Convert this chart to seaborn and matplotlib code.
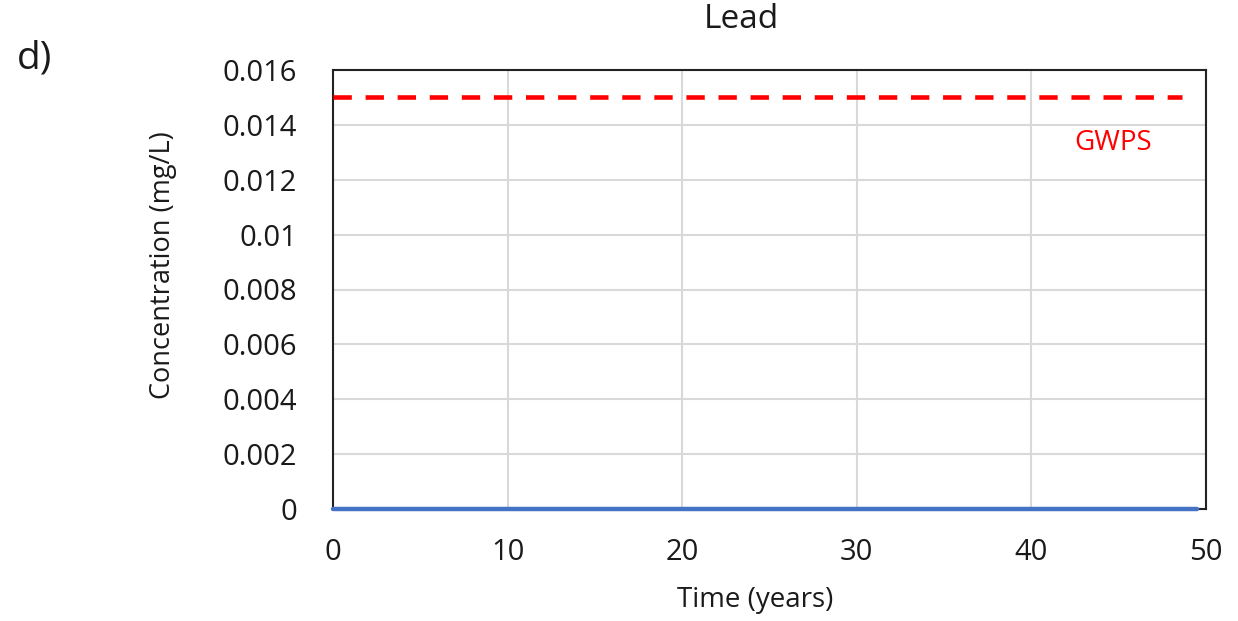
import matplotlib
matplotlib.use("Agg")
import matplotlib.pyplot as plt
import seaborn as sns
import pandas as pd

time_years = [0, 10, 20, 30, 40, 49.5]
lead_conc = [0, 0, 0, 0, 0, 0]
gwps_time = [0, 48.6]
gwps_value = [0.015, 0.015]
x_ticks = [0, 10, 20, 30, 40, 50]
y_ticks = [0, 0.002, 0.004, 0.006, 0.008, 0.01, 0.012, 0.014, 0.016]
y_tick_labels = ["0", "0.002", "0.004", "0.006", "0.008", "0.01", "0.012", "0.014", "0.016"]

sns.set_theme(style="white")
plt.rcParams['font.family'] = ['Open Sans', 'DejaVu Sans']

W, H = 1238, 621
fig = plt.figure(figsize=(W / 100, H / 100), dpi=100)
ax = fig.add_axes([333 / W, 1 - 509 / H, (1206 - 333) / W, (509 - 70) / H])

df = pd.DataFrame({"t": time_years, "c": lead_conc})
dg = pd.DataFrame({"t": gwps_time, "c": gwps_value})
sns.lineplot(data=df, x="t", y="c", ax=ax, color="#4472C4", linewidth=3.2, zorder=5, clip_on=False)
sns.lineplot(data=dg, x="t", y="c", ax=ax, color="#FF0000", linewidth=3.3, zorder=4)
ax.lines[-1].set_dashes([4.0, 3.0])

ax.set_xlim(0, 50)
ax.set_ylim(0, 0.016)
ax.set_xticks(x_ticks)
ax.set_xticklabels([str(v) for v in x_ticks], fontsize=21)
ax.set_yticks(y_ticks)
ax.set_yticklabels(y_tick_labels, fontsize=21)
ax.tick_params(axis='y', length=0, pad=26, colors="#1a1a1a")
ax.tick_params(axis='x', length=0, pad=21, colors="#1a1a1a")
ax.grid(True, color="#d9d9d9", linewidth=1.5)
ax.set_axisbelow(True)
for s in ax.spines.values():
    s.set_color("#222222")
    s.set_linewidth(1.5)
    s.set_visible(True)

ax.set_xlabel("")
ax.set_ylabel("")
fig.text(755 / W, 1 - 600 / H, "Time (years)", fontsize=20, ha="center", va="center", color="#1a1a1a")
fig.text(163 / W, 1 - 265 / H, "Concentration (mg/L)", fontsize=19.5, rotation=90,
         ha="center", va="center", color="#1a1a1a")
fig.text(741 / W, 1 - 19 / H, "Lead", fontsize=24, ha="center", va="center", color="#1a1a1a")
ax.text(44.7, 0.01334, "GWPS", color="#FF0000", fontsize=20, ha="center", va="center")
fig.text(17 / W, 1 - 58 / H, "d)", fontsize=28, ha="left", va="center", color="#1a1a1a")

fig.savefig("out.png", dpi=100)
